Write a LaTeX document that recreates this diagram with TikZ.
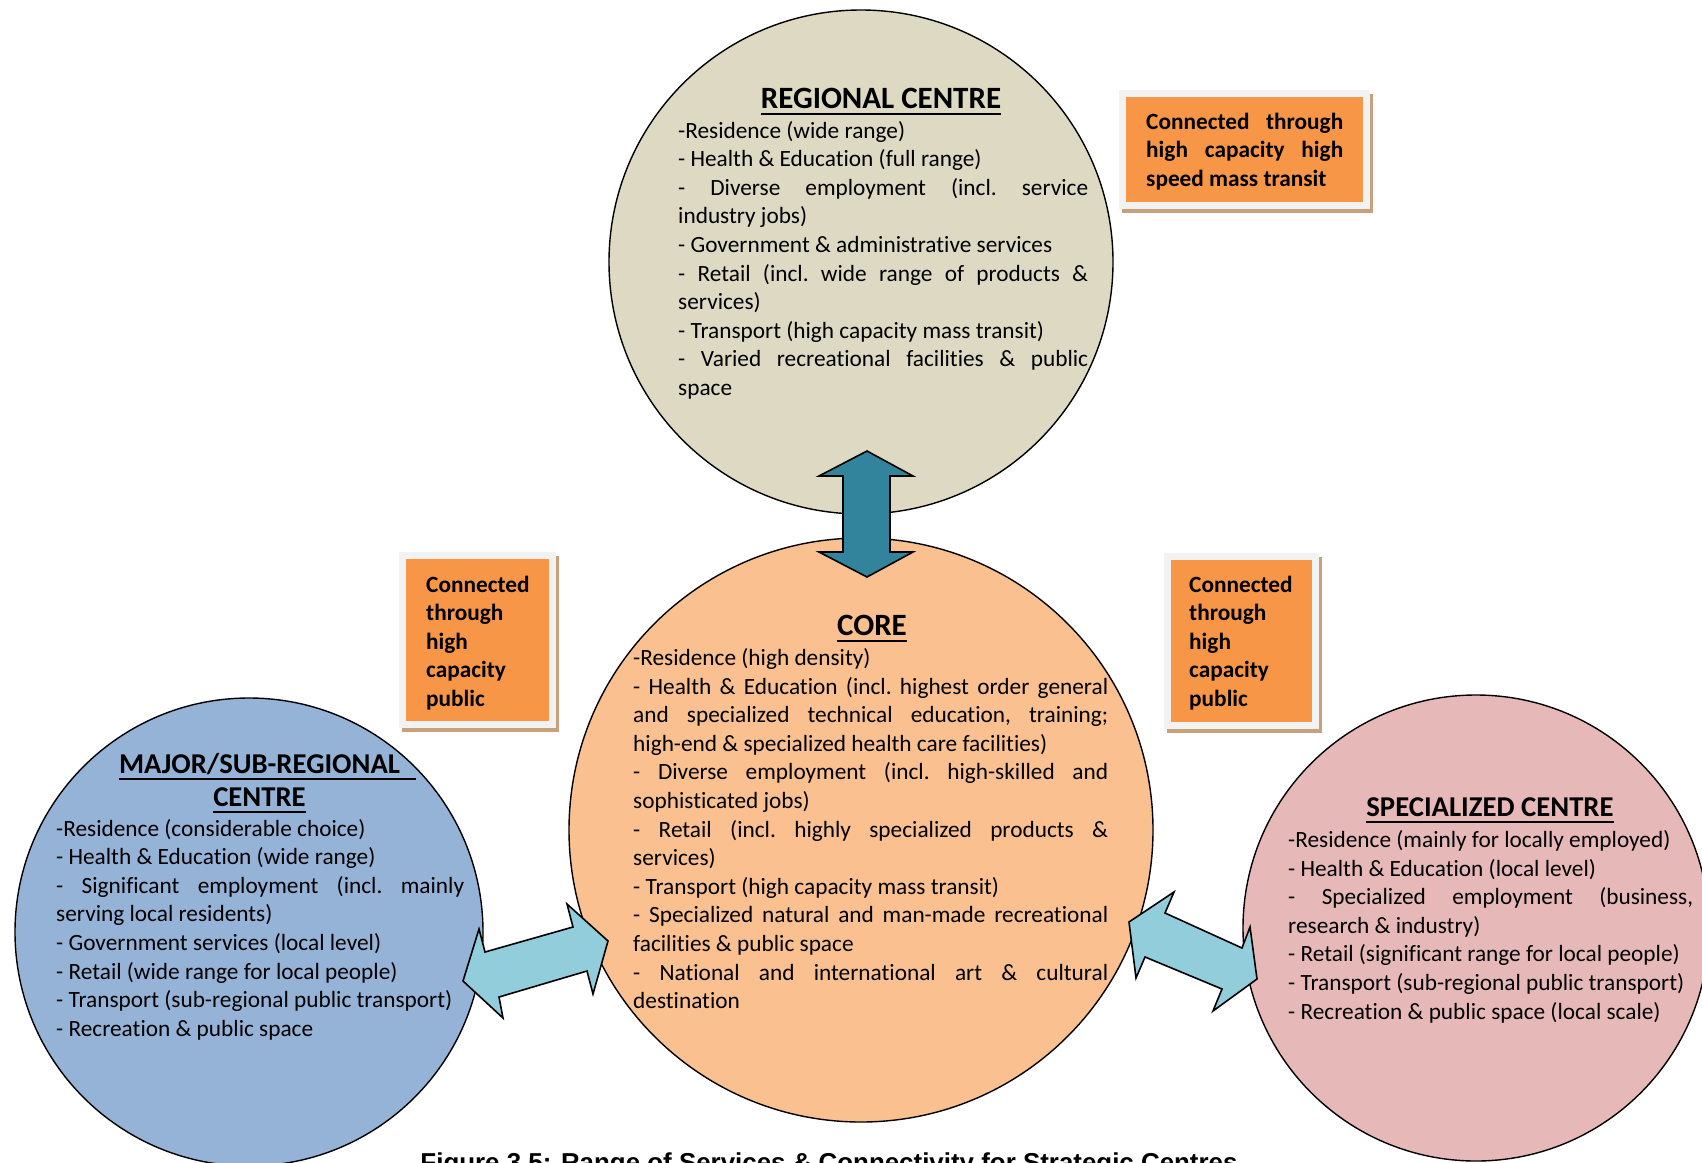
\documentclass[tikz,border=0pt]{standalone}
\usepackage{fontspec}
\setmainfont{Carlito}[RawFeature={-liga;-clig;-dlig;-calt}]
\newfontfamily\capfont{Liberation Sans}
\definecolor{regfill}{HTML}{DDD9C3}
\definecolor{corefill}{HTML}{FAC090}
\definecolor{majfill}{HTML}{95B3D7}
\definecolor{specfill}{HTML}{E6B9B8}
\definecolor{boxorange}{HTML}{F79646}
\definecolor{boxframe}{HTML}{F2F2F2}
\definecolor{boxshadow}{HTML}{C8A07C}
\definecolor{tealarrow}{HTML}{31849B}
\definecolor{lightarrow}{HTML}{92CDDC}
\newcommand{\jsetup}{\hyphenpenalty=10000 \exhyphenpenalty=10000 \frenchspacing\tolerance=10000 }
\begin{document}
\begin{tikzpicture}[x=1pt,y=-1pt,
  circ/.style={circle, draw=black, line width=1.4pt, inner sep=0pt},
  body/.style={font=\fontsize{23.3}{28.6}\selectfont,
     align=justify, inner sep=0pt, anchor=base west},
  ttl/.style={font=\bfseries\fontsize{31}{33}\selectfont, inner sep=0pt, anchor=base},
  ttlsmall/.style={font=\bfseries\fontsize{28.7}{33}\selectfont, inner sep=0pt, anchor=base},
  uline/.style={line width=2.2pt},
  boxtxt/.style={font=\bfseries\fontsize{23.3}{28.6}\selectfont, inner sep=0pt, anchor=base west},
  blockarrow/.style={draw=black, line width=1.6pt, line join=miter},
]
\useasboundingbox (0,0) rectangle (1702,1162);
\fill[white] (0,0) rectangle (1702,1162);

% circles
\node[circ, fill=regfill, minimum size=504pt] (reg) at (861,262) {};
\node[circ, fill=corefill, minimum size=584pt] (core) at (861,830) {};
\node[circ, fill=majfill, minimum size=468pt] (major) at (249,932) {};
\node[circ, fill=specfill, minimum size=466pt] (spec) at (1476,928) {};

% titles
\node[ttl] (regttl) at (881,108) {REGIONAL CENTRE};
\draw[uline] ([yshift=-6pt]regttl.base west) -- ([yshift=-6pt]regttl.base east);
\node[ttl] (corettl) at (872,635) {CORE};
\draw[uline] ([yshift=-6pt]corettl.base west) -- ([yshift=-6pt]corettl.base east);
\node[ttlsmall] (majttla) at (259.5,773) {MAJOR/SUB-REGIONAL};
\draw[uline] ([yshift=-6pt]majttla.base west) -- ([yshift=-6pt,xshift=16pt]majttla.base east);
\node[ttlsmall] (majttlb) at (259.5,806) {CENTRE};
\draw[uline] ([yshift=-6pt]majttlb.base west) -- ([yshift=-6pt]majttlb.base east);
\node[ttlsmall] (specttl) at (1490,816) {SPECIALIZED CENTRE};
\draw[uline] ([yshift=-6pt]specttl.base west) -- ([yshift=-6pt]specttl.base east);

% body texts
\node[body, text width=410pt] (regtxt) at (678,138) {\jsetup
-Residence (wide range)\par
- Health \& Education (full range)\par
- Diverse employment (incl. service\linebreak industry jobs)\par
- Government \& administrative services\par
- Retail (incl. wide range of products \&\linebreak services)\par
- Transport (high capacity mass transit)\par
- Varied recreational facilities \& public\linebreak space};

\node[body, text width=475pt] (coretxt) at (633,665.5) {\jsetup
-Residence (high density)\par
- Health \& Education (incl. highest order general\linebreak and specialized technical education, training;\linebreak high-end \& specialized health care facilities)\par
- Diverse employment (incl. high-skilled and\linebreak sophisticated jobs)\par
- Retail (incl. highly specialized products \&\linebreak services)\par
- Transport (high capacity mass transit)\par
- Specialized natural and man-made recreational\linebreak facilities \& public space\par
- National and international art \& cultural\linebreak destination};

\node[body, text width=408pt] (majtxt) at (56,836) {\jsetup
-Residence (considerable choice)\par
- Health \& Education (wide range)\par
- Significant employment (incl. mainly\linebreak serving local residents)\par
- Government services (local level)\par
- Retail (wide range for local people)\par
- Transport (sub-regional public transport)\par
- Recreation \& public space};

\node[body, text width=405pt] (spectxt) at (1288,847.5) {\jsetup
-Residence (mainly for locally employed)\par
- Health \& Education (local level)\par
- Specialized employment (business,\linebreak research \& industry)\par
- Retail (significant range for local people)\par
- Transport (sub-regional public transport)\par
- Recreation \& public space (local scale)};

% block arrows
\path[blockarrow, fill=lightarrow] (463,981) -- (479,929) -- (485,952) -- (573,927) -- (567,904) -- (608,941)
  -- (593,994) -- (587,971) -- (499,997) -- (503,1018) -- cycle;
\path[blockarrow, fill=lightarrow] (1129,922) -- (1174,892) -- (1165,913) -- (1242,948) -- (1250,927) -- (1257,979)
  -- (1213,1011) -- (1222,989) -- (1145,957) -- (1136,978) -- cycle;
\path[blockarrow, fill=tealarrow] (867,451) -- (913,476) -- (890,476) -- (890,552) -- (913,552) -- (867,577)
  -- (819,552) -- (843,552) -- (843,476) -- (819,476) -- cycle;

% connection boxes
\fill[boxshadow] (1122,94) rectangle (1373,213);
\fill[boxframe] (1119,90) rectangle (1370,209);
\fill[boxorange] (1126,97) rectangle (1363,202);
\node[boxtxt, text width=197pt, align=justify] (toptxt) at (1146,129) {\jsetup Connected through\linebreak high capacity high\linebreak speed mass transit};

\fill[boxshadow] (402,556) rectangle (559,732);
\fill[boxframe] (399,552) rectangle (556,728);
\fill[boxorange] (406,559) rectangle (549,721);
\node[boxtxt, text width=120pt, align=left] (lefttxt) at (426,592) {Connected\\through\\high\\capacity\\public};

\fill[boxshadow] (1167,557) rectangle (1322,733);
\fill[boxframe] (1164,553) rectangle (1319,729);
\fill[boxorange] (1171,560) rectangle (1312,722);
\node[boxtxt, text width=120pt, align=left] (righttxt) at (1189,592) {Connected\\through\\high\\capacity\\public};

% caption
\node[font=\capfont\bfseries\fontsize{25.9}{30}\selectfont, inner sep=0pt, anchor=base] (cap) at (829,1171)
  {Figure 3.5: Range of Services \& Connectivity for Strategic Centres};
\end{tikzpicture}
\end{document}
